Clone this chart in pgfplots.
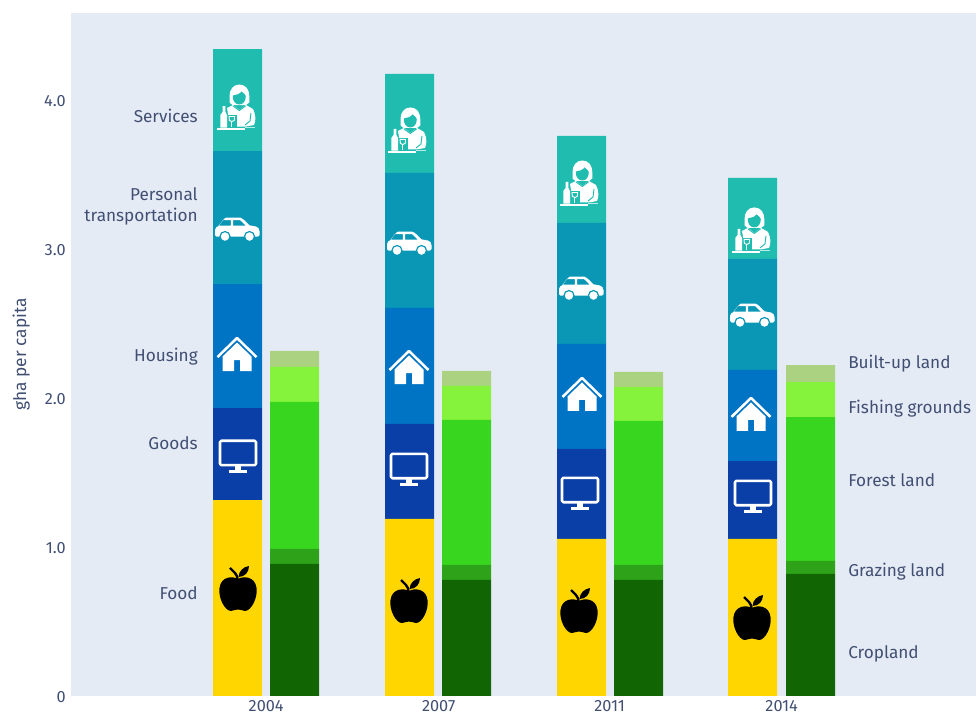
\documentclass[border=0pt]{standalone}
\usepackage{fontspec}
\setmainfont{Fira Sans}
\usepackage{pgfplots}
\pgfplotsset{compat=1.18}
\usepackage{pgfplotstable}
\definecolor{bgc}{HTML}{E5EBF5}
\definecolor{txt}{HTML}{414F73}
\definecolor{cserv}{HTML}{20BCB0}
\definecolor{ctrans}{HTML}{0A96B5}
\definecolor{chous}{HTML}{0074C4}
\definecolor{cgood}{HTML}{0B3FA8}
\definecolor{cfood}{HTML}{FFD600}
\definecolor{cbuilt}{HTML}{ABD280}
\definecolor{cfish}{HTML}{85F23B}
\definecolor{cforest}{HTML}{38D61E}
\definecolor{cgraze}{HTML}{2EA31A}
\definecolor{ccrop}{HTML}{116503}
% icons, drawn in reference pixels around their centre
\newsavebox\applebox \newsavebox\carbox \newsavebox\housebox \newsavebox\monbox \newsavebox\servbox
\tikzset{ico/.style={x=0.75pt,y=0.75pt,line join=round}}
\sbox\applebox{\begin{tikzpicture}[ico]
\path[use as bounding box] (-19,-23.5) rectangle (19,23.5);
\fill[black] (0,9) .. controls (5,12) and (17,12) .. (18.5,0) .. controls (20,-10) and (13,-23) .. (7,-23) .. controls (4,-23) and (2,-21) .. (0,-21.5) .. controls (-2,-21) and (-4,-23) .. (-7,-23) .. controls (-13,-23) and (-20,-10) .. (-18.5,0) .. controls (-17,12) and (-5,12) .. cycle;
\draw[black,line width=2.4pt*0.75] (-8,20) -- (-3,15) .. controls (-1,13) and (-0.5,11) .. (-0.5,7);
\fill[black] (0.5,11) .. controls (1,17) and (5,21) .. (11,22) .. controls (11,16) and (7,11) .. cycle;
\end{tikzpicture}}
\sbox\carbox{\begin{tikzpicture}[ico]
\path[use as bounding box] (-23,-12.5) rectangle (23,12.5);
\fill[white,even odd rule] (-22,-6) -- (-22,-1) .. controls (-22,1) and (-20,2.5) .. (-18.5,3) -- (-13.5,9.5) .. controls (-12.5,11) and (-11.5,11.5) .. (-10,11.5) -- (3,11.5) .. controls (4.5,11.5) and (5,11) .. (6,10) -- (12.5,3.7) -- (19,2.5) .. controls (21,2) and (22.5,0) .. (22.5,-2) -- (22.5,-6) .. controls (22.5,-7) and (22,-7.5) .. (21,-7.5) -- (-20.5,-7.5) .. controls (-21.5,-7.5) and (-22,-7) .. cycle
(-18.5,3.3) -- (-14,9) -- (-6.2,9) -- (-6.2,3.3) -- cycle
(-4,9) -- (3,9) -- (9,3.3) -- (-4,3.3) -- cycle;
\fill[white,draw=ctrans,line width=0.9pt] (-12,-7.5) circle[radius=5];
\fill[white,draw=ctrans,line width=0.9pt] (12.5,-7.5) circle[radius=5];
\end{tikzpicture}}
\sbox\housebox{\begin{tikzpicture}[ico]
\path[use as bounding box] (-20.5,-17.5) rectangle (20.5,17.5);
\draw[white,line width=1.9pt,line cap=butt] (-19.5,-3) -- (0,16) -- (19.5,-3);
\fill[white,even odd rule] (-14.5,-2.5) -- (0,11.5) -- (14.5,-2.5) -- (14.5,-17) -- (3,-17) -- (3,-6) -- (-3,-6) -- (-3,-17) -- (-14.5,-17) -- cycle;
\end{tikzpicture}}
\sbox\monbox{\begin{tikzpicture}[ico]
\path[use as bounding box] (-19.5,-17) rectangle (19.5,17);
\draw[white,line width=1.9pt,rounded corners=1pt] (-18,15.2) rectangle (18,-9.2);
\fill[white] (-3,-10) rectangle (3,-14);
\fill[white] (-9,-13.7) rectangle (9,-16.7);
\end{tikzpicture}}
\sbox\servbox{\begin{tikzpicture}[ico]
\path[use as bounding box] (-20,-23) rectangle (20,23);
% hair and face
\fill[white] (2.3,22.5) .. controls (9,22.5) and (12.3,17) .. (12.3,11) -- (12.3,4.5) -- (9,2) -- (-4.5,2) -- (-7.5,4.5) -- (-7.5,11) .. controls (-7.5,17) and (-4,22.5) .. (2.3,22.5) -- cycle;
\fill[cserv] (-4.2,11.5) .. controls (-1,12) and (3,13) .. (4.5,15.5) .. controls (6,14) and (8.5,13) .. (8.8,11) .. controls (9,6) and (6,2.5) .. (2.3,2.5) .. controls (-1.5,2.5) and (-4.6,6) .. (-4.2,11.5) -- cycle;
% body
\fill[white] (-4,2) -- (-10,-1) -- (-9,-7) -- (-9,-19.5) -- (9,-19.5) -- (17,-18) .. controls (19,-14) and (19,-8) .. (16,-2) -- (9,2) -- (2.3,-3) -- cycle;
\draw[cserv,line width=0.7pt] (-4,1) -- (2.3,-3.5) -- (8.5,1);
\draw[cserv,line width=0.7pt] (14,-6) -- (13,-14) -- (8,-18);
\fill[cserv] (-9.5,-8) rectangle (-0.5,-20.5);
% glass
\draw[white,line width=0.7pt] (-8,-9.5) -- (-7.6,-13.5) -- (-5.2,-14.5) -- (-2.8,-13.5) -- (-2.4,-9.5) -- cycle;
\draw[white,line width=0.8pt] (-5.2,-14.5) -- (-5.2,-20);
% bottle
\fill[white] (-14.4,1) -- (-11.6,1) -- (-11.6,-5) -- (-10,-8) -- (-10,-20.7) -- (-16.7,-20.7) -- (-16.7,-8) -- (-14.4,-5) -- cycle;
% tray
\fill[white] (-20,-21.2) rectangle (8,-22.6);
\fill[white!70!cserv] (8,-19.8) rectangle (18,-21);
\end{tikzpicture}}
\pgfplotsset{base/.style={
  at={(53.25pt,15pt)},anchor=south west,
  scale only axis,width=678.75pt,height=512.25pt,
  xmin=71,xmax=976,ymin=0,ymax=4.584,clip=false},
  stk/.style={base,ybar stacked,bar width=49,hide axis}}
\tikzset{lab/.style={font=\fontsize{12.9pt}{15.75pt}\selectfont,text=txt,inner sep=0pt}}
\pgfplotstableread{
x fd gd hs tr sv
237.5 1.315 0.617 0.832 0.893 0.685
409.5 1.188 0.638 0.779 0.906 0.664
581.5 1.054 0.604 0.705 0.812 0.584
752.5 1.054 0.523 0.611 0.745 0.544
}\footprint
\pgfplotstableread{
x cr gr fo fi bu
294.5 0.886 0.101 0.987 0.235 0.107
466.5 0.779 0.101 0.973 0.228 0.101
638.5 0.779 0.101 0.966 0.228 0.101
810.5 0.819 0.087 0.966 0.235 0.114
}\biocap
\begin{document}
\begin{tikzpicture}
\path[use as bounding box] (0,0) rectangle (732pt,537pt);
\begin{axis}[base,
  axis background/.style={fill=bgc},
  axis line style={draw=none},
  major tick style={draw=none},
  xtick={265.5,438,609,781},
  xticklabels={2004,2007,2011,2014},
  ytick={0,1,2,3,4},
  yticklabels={0,1.0,2.0,3.0,4.0},
  tick label style={font=\fontsize{12.2pt}{14pt}\selectfont,text=txt},
  xticklabel style={inner sep=0pt,yshift=-3.3pt,xshift=0.5pt},
  yticklabel style={xshift=-0.5pt,yshift=-0.5pt},
  ylabel={gha per capita},
  ylabel style={font=\fontsize{13pt}{15pt}\selectfont,text=txt,yshift=4pt},
]
\end{axis}
\begin{axis}[stk]
\addplot[fill=cfood,draw=none] table[x=x,y=fd] {\footprint};
\addplot[fill=cgood,draw=none] table[x=x,y=gd] {\footprint};
\addplot[fill=chous,draw=none] table[x=x,y=hs] {\footprint};
\addplot[fill=ctrans,draw=none] table[x=x,y=tr] {\footprint};
\addplot[fill=cserv,draw=none] table[x=x,y=sv] {\footprint};
\end{axis}
\begin{axis}[stk]
\addplot[fill=ccrop,draw=none] table[x=x,y=cr] {\biocap};
\addplot[fill=cgraze,draw=none] table[x=x,y=gr] {\biocap};
\addplot[fill=cforest,draw=none] table[x=x,y=fo] {\biocap};
\addplot[fill=cfish,draw=none] table[x=x,y=fi] {\biocap};
\addplot[fill=cbuilt,draw=none] table[x=x,y=bu] {\biocap};
\end{axis}
\begin{axis}[base,hide axis]
\addplot[only marks,mark=text,text mark={\usebox\applebox}] coordinates {(238,0.725)(409,0.644)(579,0.577)(752,0.530)};
\addplot[only marks,mark=text,text mark={\usebox\monbox}] coordinates {(238,1.611)(409,1.523)(580,1.362)(753,1.342)};
\addplot[only marks,mark=text,text mark={\usebox\housebox}] coordinates {(237,2.295)(409,2.208)(582,2.027)(751,1.893)};
\addplot[only marks,mark=text,text mark={\usebox\carbox}] coordinates {(237,3.134)(409,3.040)(581,2.738)(752,2.557)};
\addplot[only marks,mark=text,text mark={\usebox\servbox}] coordinates {(237,3.953)(408,3.799)(580,3.443)(752,3.128)};
\node[lab,anchor=east] at (axis cs:198,3.893) {Services};
\node[lab,anchor=east,align=right] at (axis cs:198,3.289) {Personal\\transportation};
\node[lab,anchor=east] at (axis cs:198,2.276) {Housing};
\node[lab,anchor=east] at (axis cs:198,1.698) {Goods};
\node[lab,anchor=east] at (axis cs:198,0.691) {Food};
\node[lab,anchor=west] at (axis cs:848,2.229) {Built-up land};
\node[lab,anchor=west] at (axis cs:848,1.927) {Fishing grounds};
\node[lab,anchor=west] at (axis cs:848,1.450) {Forest land};
\node[lab,anchor=west] at (axis cs:848,0.833) {Grazing land};
\node[lab,anchor=west] at (axis cs:848,0.282) {Cropland};
\end{axis}
\end{tikzpicture}
\end{document}
